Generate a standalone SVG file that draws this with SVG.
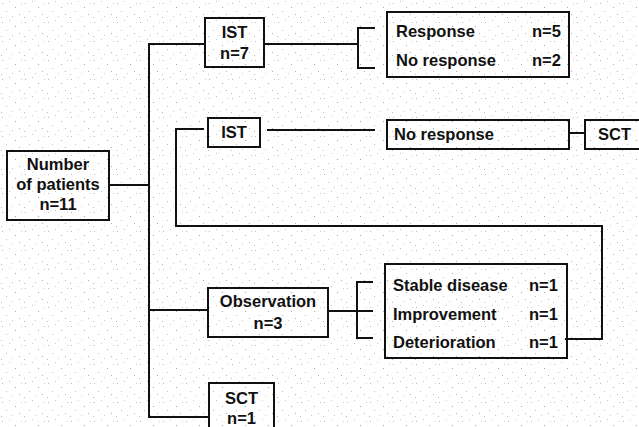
<svg xmlns="http://www.w3.org/2000/svg" width="639" height="427" viewBox="0 0 639 427">
<defs>
<pattern id="noise" width="23" height="19" patternUnits="userSpaceOnUse">
<rect x="2" y="3" width="1" height="1" fill="#b8b8b8"/>
<rect x="9" y="1" width="1" height="1" fill="#c8c8c8"/>
<rect x="15" y="7" width="1" height="1" fill="#a8a8a8"/>
<rect x="6" y="11" width="1" height="1" fill="#c0c0c0"/>
<rect x="19" y="14" width="1" height="1" fill="#b0b0b0"/>
<rect x="12" y="16" width="1" height="1" fill="#cccccc"/>
<rect x="1" y="17" width="1" height="1" fill="#bcbcbc"/>
<rect x="21" y="3" width="1" height="1" fill="#d0d0d0"/>
</pattern>
<style>
.box{fill:none;stroke:#111;stroke-width:2}
.ln{fill:none;stroke:#111;stroke-width:2}
text{font-family:"Liberation Sans",Arial,sans-serif;font-weight:bold;font-size:16.5px;fill:#111}
.c{text-anchor:middle}
</style>
</defs>
<rect width="639" height="427" fill="#ffffff"/>
<rect width="639" height="427" fill="url(#noise)"/>

<g id="connectors">
<polyline class="ln" points="205,44 149,44 149,417 209,417"/>
<line class="ln" x1="109" y1="185" x2="149" y2="185"/>
<line class="ln" x1="149" y1="310" x2="208" y2="310"/>
<line class="ln" x1="264" y1="44" x2="358" y2="44"/>
<polyline class="ln" points="375,28 358,28 358,68 375,68"/>
<polyline class="ln" points="204,129 176,129 176,226 602,226 602,339 565,339"/>
<line class="ln" x1="267" y1="130" x2="375" y2="130"/>
<line class="ln" x1="569" y1="133" x2="585" y2="133"/>
<line class="ln" x1="328" y1="311" x2="373" y2="311"/>
<polyline class="ln" points="373,282 357,282 357,338 373,338"/>
</g>

<g id="n-patients">
<rect class="box" x="7" y="151" width="102" height="69"/>
<text class="c" x="58" y="170">Number</text>
<text class="c" x="58" y="190">of patients</text>
<text class="c" x="58" y="210">n=11</text>
</g>

<g id="n-ist7">
<rect class="box" x="205" y="18" width="59" height="49"/>
<text class="c" x="234.5" y="38">IST</text>
<text class="c" x="234.5" y="59">n=7</text>
</g>

<g id="n-response">
<rect class="box" x="387" y="12" width="182" height="65"/>
<text x="396" y="37">Response</text>
<text x="532" y="37">n=5</text>
<text x="396" y="66">No response</text>
<text x="532" y="66">n=2</text>
</g>

<g id="n-ist">
<rect class="box" x="208" y="118" width="52" height="29"/>
<text class="c" x="234" y="138">IST</text>
</g>

<g id="n-noresponse">
<rect class="box" x="387" y="120" width="182" height="29"/>
<text x="394" y="140">No response</text>
</g>

<g id="n-sct">
<rect class="box" x="585" y="120" width="60" height="29"/>
<text x="598" y="140">SCT</text>
</g>

<g id="n-observation">
<rect class="box" x="208" y="288" width="120" height="49"/>
<text class="c" x="268" y="307">Observation</text>
<text class="c" x="268" y="329">n=3</text>
</g>

<g id="n-outcomes">
<rect class="box" x="385" y="264" width="182" height="94"/>
<text x="393" y="291">Stable disease</text>
<text x="529" y="291">n=1</text>
<text x="393" y="320">Improvement</text>
<text x="529" y="320">n=1</text>
<text x="393" y="348">Deterioration</text>
<text x="529" y="348">n=1</text>
</g>

<g id="n-sct1">
<rect class="box" x="209" y="383" width="65" height="50"/>
<text class="c" x="241.5" y="404">SCT</text>
<text class="c" x="241.5" y="424">n=1</text>
</g>
</svg>
